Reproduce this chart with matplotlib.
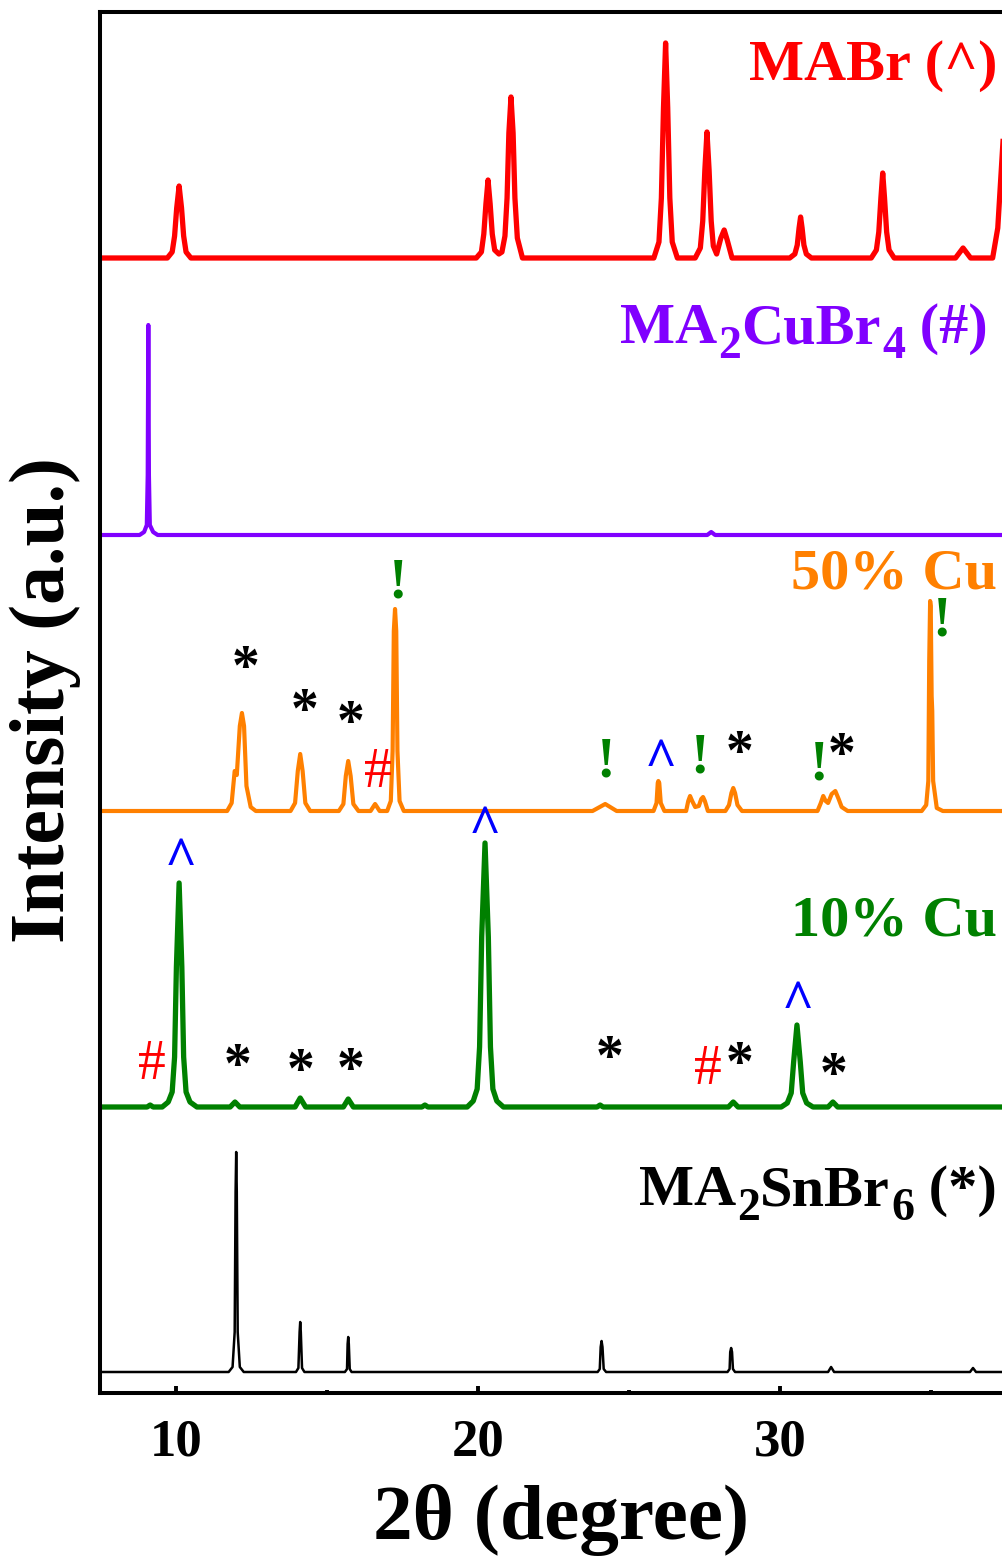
import matplotlib
matplotlib.use('Agg')
import matplotlib.pyplot as plt
from matplotlib import transforms

plt.rcParams['font.family'] = 'Liberation Serif'
plt.rcParams['font.weight'] = 'bold'

# vertices (2theta in degree, intensity in a.u.)
mabr_x = [7.5, 9.72, 9.88, 9.96, 10.03, 10.11, 10.19, 10.26, 10.34, 10.50,
          19.95, 20.12, 20.20, 20.27, 20.34, 20.41, 20.48, 20.56, 20.70,
          20.80, 20.90, 20.97, 21.03, 21.10, 21.17, 21.23, 21.31, 21.48,
          25.83, 26.00, 26.08, 26.15, 26.22, 26.29, 26.36, 26.44, 26.61,
          27.20, 27.37, 27.45, 27.52, 27.59, 27.66, 27.73, 27.80, 27.91,
          28.05, 28.16, 28.26, 28.42,
          30.33, 30.50, 30.58, 30.64, 30.69, 30.74, 30.80, 30.88, 31.05,
          33.03, 33.20, 33.28, 33.35, 33.41, 33.47, 33.54, 33.62, 33.79,
          35.82, 36.07, 36.32,
          37.05, 37.22, 37.32, 37.42, 37.55]
mabr_y = [0, 0, 6, 22, 50, 72, 50, 22, 6, 0,
          0, 6, 24, 54, 78, 54, 24, 8, 4,
          6, 22, 60, 125, 161, 125, 60, 20, 0,
          0, 16, 60, 150, 215, 150, 60, 16, 0,
          0, 10, 37, 88, 126, 88, 37, 12, 4,
          20, 28, 18, 0,
          0, 4, 13, 30, 41, 30, 13, 4, 0,
          0, 8, 26, 60, 85, 60, 26, 8, 0,
          0, 10, 0,
          0, 30, 80, 130, 160]

cubr_x = [7.5, 8.80, 8.95, 9.04, 9.07, 9.09, 9.11, 9.14, 9.25, 9.40,
          27.60, 27.73, 27.86, 37.5]
cubr_y = [0, 0, 3, 10, 60, 210, 60, 10, 3, 0,
          0, 3, 0, 0]

cu50_x = [7.5, 11.70, 11.85, 11.95, 12.02, 12.12, 12.19, 12.26, 12.34, 12.48, 12.65,
          13.80, 13.95, 14.04, 14.12, 14.20, 14.29, 14.45,
          15.40, 15.55, 15.63, 15.71, 15.79, 15.88, 16.05,
          16.45, 16.60, 16.75,
          17.00, 17.12, 17.18, 17.22, 17.26, 17.30, 17.34, 17.41, 17.55,
          23.80, 24.22, 24.60,
          25.82, 25.92, 25.96, 25.98, 26.01, 26.06, 26.18,
          26.90, 26.97, 27.03, 27.10, 27.20,
          27.32, 27.40, 27.46, 27.52, 27.62,
          28.20, 28.32, 28.40, 28.46, 28.52, 28.60, 28.75,
          31.25, 31.36, 31.44, 31.52, 31.60, 31.72, 31.84, 31.95, 32.05, 32.25,
          34.70, 34.85, 34.92, 34.95, 34.98, 35.00, 35.03, 35.05, 35.08, 35.20, 35.40,
          37.5]
cu50_y = [0, 0, 8, 40, 36, 85, 98, 85, 25, 4, 0,
          0, 8, 40, 57, 40, 8, 0,
          0, 7, 35, 50, 35, 7, 0,
          0, 7, 0,
          0, 10, 60, 180, 202, 180, 60, 10, 0,
          0, 7, 0,
          0, 8, 28, 30, 28, 8, 0,
          0, 10, 15, 10, 4,
          5, 12, 14, 10, 0,
          0, 6, 18, 23, 18, 6, 0,
          0, 8, 15, 10, 8, 17, 20, 12, 4, 0,
          0, 6, 30, 150, 210, 205, 115, 100, 30, 3, 0,
          0]

cu10_x = [7.5, 9.05, 9.15, 9.25,
          9.55, 9.75, 9.88, 9.96, 10.02, 10.11, 10.20, 10.26, 10.34, 10.47, 10.70,
          11.80, 11.96, 12.12,
          13.95, 14.12, 14.30,
          15.55, 15.71, 15.88,
          18.15, 18.25, 18.35,
          19.65, 19.85, 19.98, 20.06, 20.13, 20.24, 20.35, 20.42, 20.50, 20.63, 20.85,
          23.95, 24.05, 24.15,
          28.30, 28.46, 28.62,
          30.05, 30.25, 30.38, 30.46, 30.57, 30.68, 30.76, 30.89, 31.10,
          31.60, 31.76, 31.92,
          37.5]
cu10_y = [0, 0, 2, 0,
          0, 5, 15, 50, 140, 224, 140, 50, 15, 5, 0,
          0, 5, 0,
          0, 9, 0,
          0, 8, 0,
          0, 2, 0,
          0, 6, 18, 60, 170, 264, 170, 60, 18, 6, 0,
          0, 2, 0,
          0, 5, 0,
          0, 4, 14, 45, 82, 45, 14, 4, 0,
          0, 5, 0,
          0]

snbr_x = [7.5, 11.75, 11.88, 11.95, 11.98, 12.00, 12.02, 12.05, 12.12, 12.25,
          13.98, 14.06, 14.10, 14.12, 14.14, 14.18, 14.26,
          15.60, 15.67, 15.69, 15.71, 15.73, 15.76, 15.82,
          23.97, 24.04, 24.07, 24.10, 24.13, 24.17, 24.25,
          28.27, 28.34, 28.36, 28.39, 28.42, 28.45, 28.52,
          31.60, 31.70, 31.80,
          36.30, 36.40, 36.50,
          37.5]
snbr_y = [0, 0, 5, 40, 180, 220, 180, 40, 5, 0,
          0, 4, 40, 50, 40, 4, 0,
          0, 3, 28, 35, 28, 3, 0,
          0, 3, 25, 31, 25, 3, 0,
          0, 3, 20, 24, 20, 3, 0,
          0, 5, 0,
          0, 4, 0,
          0]

offsets = [1135, 858, 582, 286, 21]
colors = ['#ff0000', '#8000ff', '#ff8000', '#008000', '#000000']
widths = [3.8, 3.0, 3.0, 3.8, 1.8]
# label pieces: (text, is_subscript)
names = [[('MABr (^)', False)],
         [('MA', False), ('2', True), ('CuBr', False), ('4', True), (' (#)', False)],
         [('50% Cu', False)],
         [('10% Cu', False)],
         [('MA', False), ('2', True), ('SnBr', False), ('6', True), (' (*)', False)]]
name_x = [37.2, 36.9, 37.2, 37.2, 37.2]
name_y = [1313, 1050, 805, 458, 188]

# phase markers: (symbol, 2theta, y)
marks = [('*', 12.30, 723), ('*', 14.25, 680), ('*', 15.80, 668), ('#', 16.70, 620),
         ('!', 17.33, 810), ('!', 24.22, 631), ('^', 26.07, 630), ('!', 27.33, 635),
         ('*', 28.66, 638), ('!', 31.27, 628), ('*', 32.06, 636), ('!', 35.37, 772),
         ('#', 9.22, 328), ('^', 10.18, 531), ('*', 12.03, 325), ('*', 14.12, 320),
         ('*', 15.80, 321), ('^', 20.24, 563), ('*', 24.38, 333), ('#', 27.63, 323),
         ('*', 28.66, 327), ('^', 30.61, 388), ('*', 31.77, 316)]
mark_style = {'*': ('black', 'bold'), '#': ('red', 'normal'),
              '!': ('green', 'bold'), '^': ('blue', 'bold')}

fig = plt.figure(figsize=(10.02, 15.63), dpi=100)
ax = fig.add_axes([100/1002, 170/1563, 902/1002, 1381/1563])

series = [(mabr_x, mabr_y), (cubr_x, cubr_y), (cu50_x, cu50_y), (cu10_x, cu10_y), (snbr_x, snbr_y)]
for (xs, ys), off, c, lw in zip(series, offsets, colors, widths):
    ax.plot(xs, [v + off for v in ys], color=c, lw=lw, solid_joinstyle='round')

ax.set_xlim(7.49, 37.36)
ax.set_ylim(0, 1381)

# labels drawn piece by piece from the right so subscripts can drop lower
renderer = fig.canvas.get_renderer()
for pieces, nx, ny, c in zip(names, name_x, name_y, colors):
    shift = 0.0
    for txt, sub in reversed(pieces):
        fs = 33 if sub else 42
        dy = -11 if sub else 0
        tr = transforms.offset_copy(ax.transData, fig=fig, x=-shift, y=dy, units='points')
        t = ax.text(nx, ny, txt, color=c, fontsize=fs, fontweight='bold',
                    ha='right', va='baseline', transform=tr)
        w = t.get_window_extent(renderer).width * 72 / fig.dpi
        shift += w + (1 if sub else 0)

for s, mx, my in marks:
    c, w = mark_style[s]
    ax.text(mx, my, s, color=c, fontsize=40, fontweight=w, ha='center', va='center')

ax.set_xticks([10, 20, 30])
ax.set_xticks([15, 25, 35], minor=True)
ax.set_yticks([])
ax.tick_params(axis='x', which='major', direction='in', length=5, width=2.8, labelsize=38, pad=18)
ax.tick_params(axis='x', which='minor', direction='in', length=2.5, width=2.8)
for sp in ['left', 'top', 'bottom']:
    ax.spines[sp].set_linewidth(2.9)
ax.spines['right'].set_visible(False)

fig.text(45/1002, 1 - 700/1563, 'Intensity (a.u.)', rotation=90, fontsize=56,
         fontweight='bold', ha='center', va='center')
fig.text(561/1002, 1 - 1520/1563, '2θ (degree)', fontsize=57,
         fontweight='bold', ha='center', va='center')

fig.savefig('out.png', dpi=100)
